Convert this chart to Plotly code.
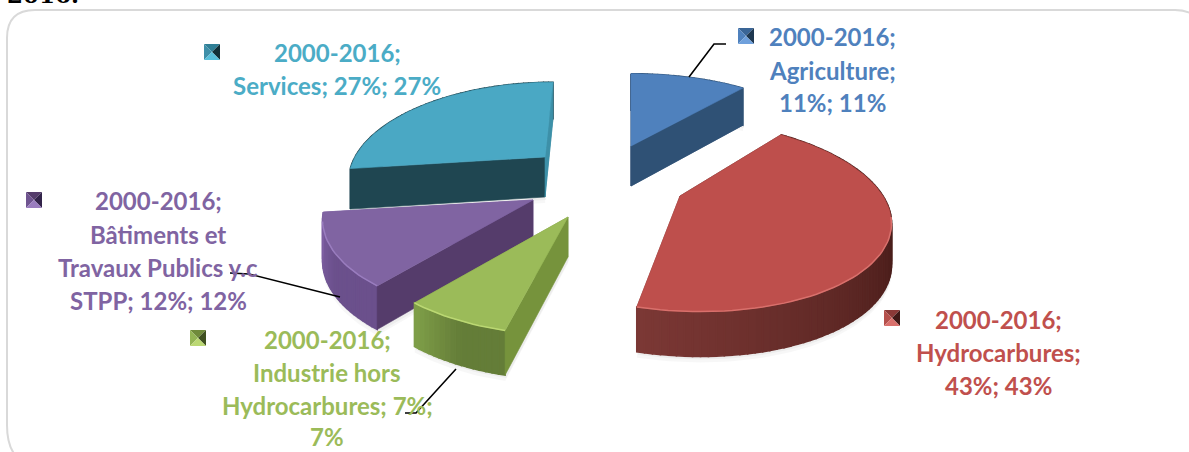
import math
import plotly.graph_objects as go

# ---- data ----
PERIOD = "2000-2016"
categories = ["Agriculture", "Hydrocarbures", "Industrie hors Hydrocarbures",
              "Bâtiments et Travaux Publics y.c STPP", "Services"]
values = [11, 43, 7, 12, 27]
label_lines = [
    ["2000-2016;", "Agriculture;", "11%; 11%"],
    ["2000-2016;", "Hydrocarbures;", "43%; 43%"],
    ["2000-2016;", "Industrie hors", "Hydrocarbures; 7%;", "7%"],
    ["2000-2016;", "Bâtiments et", "Travaux Publics y.c", "STPP; 12%; 12%"],
    ["2000-2016;", "Services; 27%; 27%"],
]

# ---- style & layout (pixel space of the page) ----
W, H = 1189, 452
PERSP, DEPTH = 0.204, 40
RX = [203, 203, 203, 206, 190]
KY = [87, 92, 94, 94, 90]
VX = [631, 600, 568, 533, 592]
apex = [(631, 146), (680, 196), (568, 217), (533, 200), (545, 157)]
top_col = ["#4F81BD", "#BE4F4C", "#9BBB59", "#8064A2", "#4AA8C4"]
text_col = ["#4F81BD", "#C0504D", "#9BBB59", "#8064A2", "#4BACC6"]
arc_from = ["#2F5175", "#7C3835", "#80A049", "#7E60A2", "#1F4651"]
arc_to = ["#2F5175", "#491D1A", "#647D38", "#6B508C", "#1F4651"]
end_col = ["#2F5175", "#7C3835", "#80A049", "#7E60A2", "#3D90A8"]
start_col = ["#2C4C70", "#5A2522", "#76933C", "#553C6B", "#1F4651"]
rim_col = [None, "#D9706C", "#BBD873", "#9A7DBF", None]
label_pos = [(832, [36, 70, 102]), (998, [319, 352, 385]), (327, [339, 372, 405, 436]),
             (158, [200, 234, 267, 300]), (337, [52, 85])]
key_box = [(738, 28), (884, 310), (190, 330), (26, 192), (204, 44)]
key_shades = [("#3A6596", "#4F81BD", "#1F3850", "#6FA0DC"),
              ("#8A3A38", "#B5504C", "#3F1917", "#D9706C"),
              ("#6F8A3A", "#93B454", "#3F5020", "#BBD873"),
              ("#553C6B", "#6F5490", "#33244A", "#9A7DBF"),
              ("#2F7F96", "#3E8FA8", "#123038", "#58BFDA")]
leaders = [[(689, 77), (714, 44), (726, 44)],
           [(230, 273), (249, 274), (340, 297)],
           [(456, 369), (416, 413), (405, 413)]]


def project(i, theta, r=1.0, drop=0.0):
    """Perspective projection of a point on slice i (theta clockwise from 12 o'clock)."""
    ax, ay = apex[i]
    y = r * math.cos(theta)
    s = 1 / (1 + PERSP * y)
    sx = ax + RX[i] * r * math.sin(theta) * s + (ax - VX[i]) * (s - 1)
    sy = ay - KY[i] * y * s + drop * DEPTH * s ** 0.5
    return sx, sy


def mix(c1, c2, t):
    a = [int(c1[k:k + 2], 16) for k in (1, 3, 5)]
    b = [int(c2[k:k + 2], 16) for k in (1, 3, 5)]
    return "#%02x%02x%02x" % tuple(round(p + (q - p) * t) for p, q in zip(a, b))


fig = go.Figure()


def poly(pts, color, lw=0.6):
    fig.add_trace(go.Scatter(x=[p[0] for p in pts] + [pts[0][0]], y=[p[1] for p in pts] + [pts[0][1]],
                             mode="lines", fill="toself", fillcolor=color,
                             line=dict(color=color, width=lw), hoverinfo="skip", showlegend=False))


total = sum(values)
bounds, acc = [], 0.0
for v in values:
    bounds.append((acc / total * 2 * math.pi, (acc + v) / total * 2 * math.pi))
    acc += v

for idx in [4, 0, 3, 1, 2]:
    t0, t1 = bounds[idx]
    n = max(16, values[idx] * 2)
    ts = [t0 + (t1 - t0) * k / n for k in range(n + 1)]
    A, Ab = project(idx, 0, 0), project(idx, 0, 0, 1)
    # soft shadow
    for off, col in ((6, "rgba(0,0,0,0.03)"), (3, "rgba(0,0,0,0.04)")):
        outline = [A] + [project(idx, t) for t in ts] + [project(idx, t, 1, 1) for t in reversed(ts)] + [Ab]
        poly([(x - off * 0.3 + 2, y + off) for x, y in outline], col, 0)
    # radial wall hidden behind the outer wall
    poly([A, project(idx, t1), project(idx, t1, 1, 1), Ab], end_col[idx])
    # outer wall, as shaded strips
    for k in range(n):
        a, b = ts[k], ts[k + 1]
        f = min(1.0, ((t1 - (a + b) / 2) / (t1 - t0)) * 1.8)
        poly([project(idx, a), project(idx, b), project(idx, b, 1, 1), project(idx, a, 1, 1)],
             mix(arc_from[idx], arc_to[idx], f), 1.6)
    # radial wall facing the viewer
    poly([A, project(idx, t0), project(idx, t0, 1, 1), Ab], start_col[idx])
    if idx in (0, 4):
        poly([A, project(idx, t1), project(idx, t1, 1, 1), Ab], end_col[idx])
    # top face
    poly([A] + [project(idx, t) for t in ts], top_col[idx])
    # bevel highlight on the front rim
    if rim_col[idx]:
        front = [t for t in ts if math.cos(t) < -0.2]
        if front:
            fig.add_trace(go.Scatter(x=[project(idx, t)[0] for t in front], y=[project(idx, t)[1] for t in front],
                                     mode="lines", line=dict(color=rim_col[idx], width=1.5),
                                     hoverinfo="skip", showlegend=False))

for pts in leaders:
    fig.add_trace(go.Scatter(x=[p[0] for p in pts], y=[p[1] for p in pts], mode="lines",
                             line=dict(color="#000000", width=1.6), hoverinfo="skip", showlegend=False))

annotations = []
for i, lines in enumerate(label_lines):
    cx, ys = label_pos[i]
    for line, y in zip(lines, ys):
        annotations.append(dict(x=cx, y=y, text=f"<b>{line}</b>", showarrow=False, xref="x", yref="y",
                                xanchor="center", yanchor="middle",
                                font=dict(family="Lato", size=24, color=text_col[i])))
annotations.append(dict(x=5 / W, y=1 + 6 / H, text="<b>2016.</b>", showarrow=False, xref="paper", yref="paper",
                        xanchor="left", yanchor="middle",
                        font=dict(family="DejaVu Serif", size=23, color="#000000")))

shapes = [dict(type="path", xref="x", yref="y", layer="below",
               path="M 16 456 Q 7 446 7 425 L 7 38 Q 7 10 35 10 L 1175 10 Q 1185 10 1192 14",
               line=dict(color="#D9D9D9", width=2))]
for (kx, ky), (top, left, right, bot) in zip(key_box, key_shades):
    w, h = 16, 16
    cx, cy = kx + w / 2, ky + h / 2
    for p, c in (((kx, ky, kx + w, ky), top), ((kx, ky, kx, ky + h), left),
                 ((kx + w, ky, kx + w, ky + h), right), ((kx, ky + h, kx + w, ky + h), bot)):
        shapes.append(dict(type="path", xref="x", yref="y", fillcolor=c, line=dict(width=0),
                           path=f"M {p[0]} {p[1]} L {p[2]} {p[3]} L {cx} {cy} Z"))

fig.update_layout(
    width=W, height=H, margin=dict(l=0, r=0, t=0, b=0),
    paper_bgcolor="#FFFFFF", plot_bgcolor="#FFFFFF", showlegend=False,
    xaxis=dict(range=[0, W], visible=False, fixedrange=True),
    yaxis=dict(range=[H, 0], visible=False, fixedrange=True),
    annotations=annotations, shapes=shapes,
)
fig.write_html("out.html", config=dict(displayModeBar=False),
               post_script="document.body.style.margin='0';document.documentElement.style.overflow='hidden';")
